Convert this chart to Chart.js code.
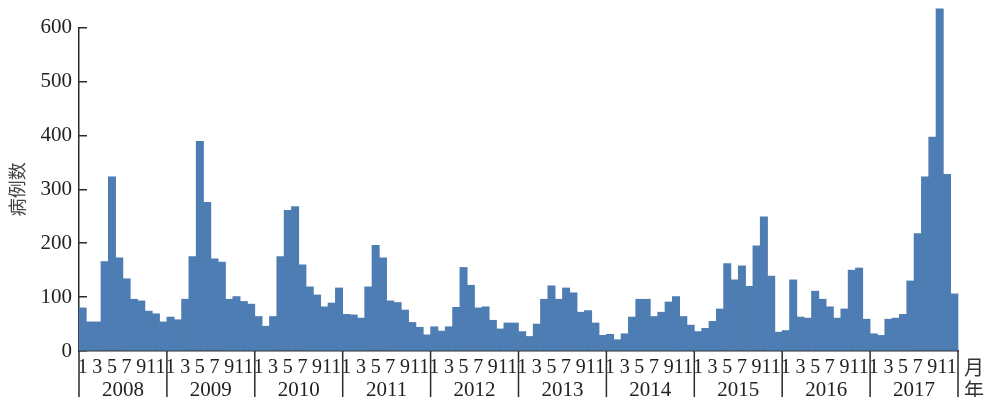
<!DOCTYPE html>
<html>
<head>
<meta charset="utf-8">
<script src="https://cdn.jsdelivr.net/npm/chart.js@4.4.1/dist/chart.umd.min.js"></script>
<style>
  html, body { margin: 0; padding: 0; background: #fff; }
  #wrap { position: relative; width: 986px; height: 397px; }
</style>
</head>
<body>
<div id="wrap"><canvas id="casesChart"></canvas></div>
<script>
// Monthly case counts, Jan..Dec, one array per year
const years = ['2008', '2009', '2010', '2011', '2012', '2013', '2014', '2015', '2016', '2017'];
const cases2008 = [80, 54, 54, 166, 323, 173, 134, 96, 93, 74, 69, 54];
const cases2009 = [63, 58, 96, 175, 389, 276, 171, 165, 96, 101, 92, 87];
const cases2010 = [64, 46, 64, 175, 261, 268, 160, 119, 104, 82, 89, 117];
const cases2011 = [68, 67, 61, 119, 196, 173, 93, 90, 76, 53, 44, 30];
const cases2012 = [45, 37, 45, 81, 155, 122, 80, 82, 57, 41, 52, 52];
const cases2013 = [36, 27, 50, 96, 121, 96, 117, 108, 72, 75, 52, 29];
const cases2014 = [31, 21, 32, 63, 96, 96, 64, 72, 91, 101, 64, 48];
const cases2015 = [36, 42, 55, 78, 162, 132, 158, 120, 195, 249, 139, 35];
const cases2016 = [38, 132, 63, 61, 111, 96, 82, 61, 78, 150, 154, 59];
const cases2017 = [32, 29, 59, 61, 68, 130, 218, 323, 397, 635, 328, 106];

const monthTicks = [1, 3, 5, 7, 9, 11];
const yTicks = [0, 100, 200, 300, 400, 500, 600];

const allCases = [].concat(cases2008, cases2009, cases2010, cases2011, cases2012,
    cases2013, cases2014, cases2015, cases2016, cases2017);
const categories = [];
years.forEach(y => {
    for (let m = 1; m <= 12; m++) categories.push(y + '-' + m);
});

const axisColor = '#2b2b2b';
const serif = '"Liberation Serif", "Times New Roman", serif';

// year separators below the axis, plus the 月/年 unit labels
const yearDividers = {
    id: 'yearDividers',
    afterDraw(chart) {
        const { ctx, chartArea } = chart;
        const x = chart.scales.x;
        const half = (x.getPixelForValue(1) - x.getPixelForValue(0)) / 2;
        ctx.save();
        ctx.strokeStyle = axisColor;
        ctx.lineWidth = 1.5;
        for (let k = 0; k <= years.length; k++) {
            const px = x.getPixelForValue(k * 12) - half;
            ctx.beginPath();
            ctx.moveTo(px, chartArea.bottom);
            ctx.lineTo(px, chart.height);
            ctx.stroke();
        }
        ctx.fillStyle = '#333';
        ctx.font = '20px "Noto Sans CJK SC"';
        ctx.textAlign = 'center';
        ctx.textBaseline = 'middle';
        ctx.fillText('月', chartArea.right + 16, chartArea.bottom + 16);
        ctx.fillText('年', chartArea.right + 16, chartArea.bottom + 39);
        ctx.restore();
    }
};

new Chart(document.getElementById('casesChart'), {
    type: 'bar',
    data: {
        labels: categories,
        datasets: [{
            data: allCases,
            backgroundColor: '#4e7db4',
            borderWidth: 0,
            barPercentage: 1,
            categoryPercentage: 1,
            clip: false
        }]
    },
    options: {
        responsive: true,
        maintainAspectRatio: false,
        animation: false,
        layout: { padding: { top: 25, right: 28, left: 0, bottom: 0 } },
        plugins: {
            legend: { display: false },
            tooltip: { enabled: false }
        },
        scales: {
            x: {
                position: 'bottom',
                grid: { display: false, drawTicks: false },
                border: { display: true, color: axisColor, width: 1.5 },
                ticks: {
                    autoSkip: false,
                    maxRotation: 0,
                    minRotation: 0,
                    padding: 5,
                    color: '#222',
                    font: { family: serif, size: 20 },
                    callback: function(value, index) {
                        const m = index % 12 + 1;
                        return monthTicks.includes(m) ? String(m) : '';
                    }
                },
                afterFit: s => { s.height = 22; }
            },
            x2: {
                type: 'category',
                position: 'bottom',
                labels: years,
                offset: true,
                grid: { display: false, drawTicks: false },
                border: { display: false },
                ticks: {
                    autoSkip: false,
                    maxRotation: 0,
                    padding: 5,
                    color: '#222',
                    font: { family: serif, size: 21 }
                },
                afterFit: s => { s.height = 24; }
            },
            y: {
                min: 0,
                max: 600,
                afterBuildTicks: s => { s.ticks = yTicks.map(v => ({ value: v })); },
                grid: { drawOnChartArea: false, drawTicks: true, tickLength: -8, color: axisColor, lineWidth: 1.5 },
                border: { display: true, color: axisColor, width: 1.5 },
                ticks: {
                    padding: 15,
                    color: '#222',
                    font: { family: serif, size: 21 }
                },
                title: {
                    display: true,
                    text: '病例数',
                    color: '#444',
                    padding: { top: 6, bottom: 0 },
                    font: { family: '"Noto Sans CJK SC"', size: 18 }
                },
                afterFit: s => { s.width = 79; }
            }
        }
    },
    plugins: [yearDividers]
});
</script>
</body>
</html>
